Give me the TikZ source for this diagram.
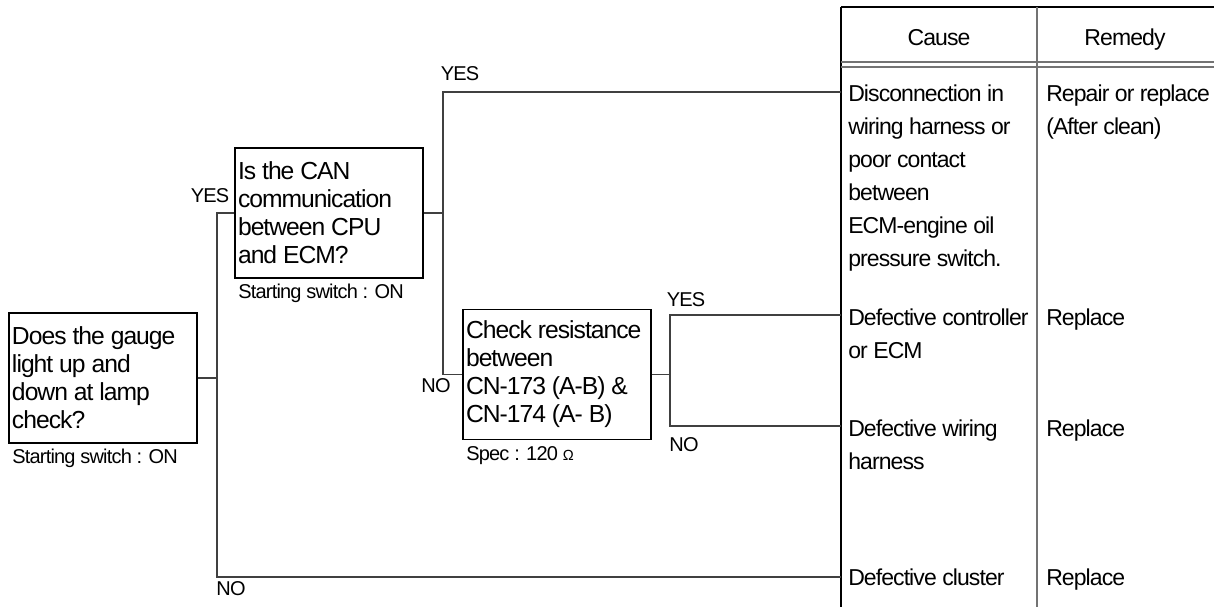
\documentclass[tikz,border=0pt]{standalone}
\usepackage{fontspec}
\setmainfont[LetterSpace=-4]{Liberation Sans}
\usepackage{tikz}
\newcommand\tightsp{\spaceskip=0.24em\relax}

\begin{document}
\begin{tikzpicture}[x=0.75pt,y=-0.75pt]
		\tikzstyle{every node}+=[inner sep=0pt]
		\tikzstyle{qbox}=[draw=black,line width=1pt,text width=136.5pt,minimum height=97.5pt,inner xsep=2.25pt,align=flush left,font=\fontsize{18.5}{21}\selectfont\tightsp]
		\tikzstyle{note}=[anchor=base west,font=\fontsize{15}{18}\selectfont\tightsp]
		\tikzstyle{lbl}=[font=\fontsize{15}{18}\selectfont]
		\tikzstyle{hd}=[anchor=base,font=\fontsize{17.25}{20}\selectfont]
		\tikzstyle{cell}=[anchor=base west,text width=140pt,align=flush left,font=\fontsize{17.25}{24.75}\selectfont\tightsp]
		\tikzstyle{wire}=[draw=black!75,line width=0.8pt]
		\useasboundingbox (0,0) rectangle (1214,607);
		\node [qbox] (q1) at (103,378) {Does the gauge\\light up and\\down at lamp\\check?};
		\node [note] (s1) at (12,463) {Starting switch : ON};
		\node [qbox] (q2) at (329,213) {Is the CAN\\communication\\between CPU\\and ECM?};
		\node [note] (s2) at (238,298) {Starting switch : ON};
		\node [qbox] (q3) at (557,374.5) {Check resistance\\between\\CN-173 (A-B) \&\\CN-174 (A- B)};
		\node [note] (s3) at (466,460) {Spec : 120 {\fontsize{11}{11}\selectfont Ω}};
		\draw [black,line width=1.5pt] (841,7) -- (1214,7);
		\draw [black,line width=1.5pt] (841,7) -- (841,607);
		\draw [black!55,line width=1pt] (1037,7) -- (1037,607);
		\draw [black!55,line width=0.8pt] (841,62) -- (1214,62);
		\draw [black!55,line width=0.8pt] (841,67) -- (1214,67);
		\node [hd] (cause) at (939,45) {Cause};
		\node [hd] (remedy) at (1125,45) {Remedy};
		\node [cell] (c1) at (848,101) {Disconnection in\\wiring harness or\\poor contact\\between\\ECM-engine oil\\pressure switch.};
		\node [cell] (r1) at (1046,101) {Repair or replace\\(After clean)};
		\node [cell] (c2) at (848,325) {Defective controller\\or ECM};
		\node [cell] (r2) at (1046,325) {Replace};
		\node [cell] (c3) at (848,436) {Defective wiring\\harness};
		\node [cell] (r3) at (1046,436) {Replace};
		\node [cell] (c4) at (848,585) {Defective cluster};
		\node [cell] (r4) at (1046,585) {Replace};
		\coordinate (t1) at (841,92);
		\coordinate (t2) at (841,315);
		\coordinate (t3) at (841,426);
		\coordinate (t4) at (841,577);
		\coordinate (j1) at (217,378);
		\coordinate (j2) at (443,213);
		\coordinate (j3) at (670,374.5);
		\draw [wire] (q1.east) -- (j1);
		\draw [wire] (q2.west) -| (j1) |- (t4);
		\draw [wire] (q2.east) -- (j2);
		\draw [wire] (t1) -| (j2) |- (q3.west);
		\draw [wire] (q3.east) -- (j3);
		\draw [wire] (t2) -| (j3) |- (t3);
		\node [lbl] (y1) at (210,196) {YES};
		\node [lbl] (n1) at (231,589) {NO};
		\node [lbl] (y2) at (460,74) {YES};
		\node [lbl] (n2) at (436,386) {NO};
		\node [lbl] (y3) at (686,300) {YES};
		\node [lbl] (n3) at (684,445) {NO};
	\end{tikzpicture}
\end{document}
